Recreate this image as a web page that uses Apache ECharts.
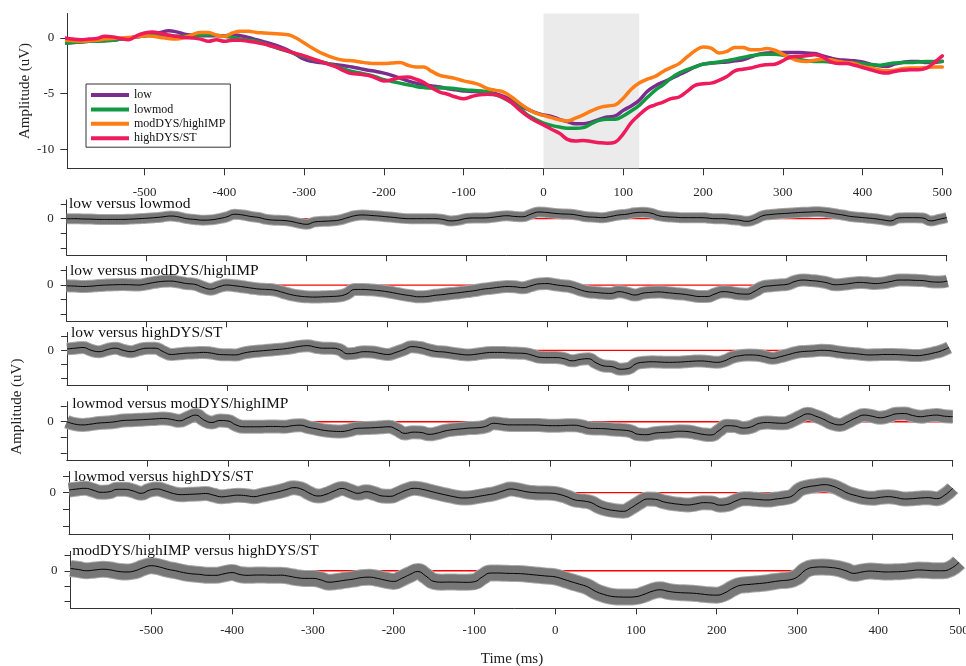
<!DOCTYPE html>
<html>
<head>
<meta charset="utf-8">
<script src="https://cdn.jsdelivr.net/npm/echarts@6.0.0/dist/echarts.min.js"></script>
<style>
html,body{margin:0;padding:0;background:#fff;}
#chart{width:966px;height:666px;}
</style>
</head>
<body>
<div id="chart"></div>
<script>
// ---------- DATA ----------
const time = [-600,-590,-580,-570,-560,-550,-540,-530,-520,-510,
  -500,-490,-480,-470,-460,-450,-440,-430,-420,-410,
  -400,-390,-380,-370,-360,-350,-340,-330,-320,-310,
  -300,-290,-280,-270,-260,-250,-240,-230,-220,-210,
  -200,-190,-180,-170,-160,-150,-140,-130,-120,-110,
  -100,-90,-80,-70,-60,-50,-40,-30,-20,-10,
  0,10,20,30,40,50,60,70,80,90,
  100,110,120,130,140,150,160,170,180,190,
  200,210,220,230,240,250,260,270,280,290,
  300,310,320,330,340,350,360,370,380,390,
  400,410,420,430,440,450,460,470,480,490,500];

const groupNames = ['low','lowmod','modDYS/highIMP','highDYS/ST'];

const low = [-0.45,-0.4,-0.35,-0.3,-0.25,-0.25,-0.2,-0.1,0.0,0.1,
  0.2,0.35,0.5,0.65,0.55,0.35,0.25,0.2,0.2,0.2,
  0.2,0.3,0.2,0.05,-0.15,-0.35,-0.55,-0.8,-1.1,-1.5,
  -1.9,-2.1,-2.2,-2.3,-2.4,-2.5,-2.6,-2.75,-2.9,-3.0,
  -3.15,-3.35,-3.6,-3.85,-4.05,-4.2,-4.3,-4.4,-4.55,-4.65,
  -4.75,-4.8,-4.8,-4.85,-5.0,-5.25,-5.6,-6.05,-6.4,-6.7,
  -6.9,-7.05,-7.3,-7.5,-7.7,-7.7,-7.55,-7.3,-7.1,-7.0,
  -6.5,-6.1,-5.6,-4.8,-4.3,-3.95,-3.65,-3.3,-2.95,-2.6,
  -2.35,-2.25,-2.2,-2.15,-2.05,-1.95,-1.7,-1.45,-1.35,-1.3,
  -1.3,-1.3,-1.3,-1.35,-1.4,-1.6,-1.8,-1.95,-2.0,-2.05,
  -2.15,-2.35,-2.5,-2.55,-2.35,-2.2,-2.1,-2.1,-2.2,-2.2,-2.1];

const lowmod = [-0.45,-0.4,-0.35,-0.3,-0.3,-0.25,-0.2,-0.1,0.0,0.1,
  0.2,0.25,0.3,0.25,0.15,0.15,0.2,0.25,0.3,0.25,
  0.15,0.05,-0.1,-0.2,-0.3,-0.5,-0.75,-1.0,-1.2,-1.45,
  -1.65,-1.9,-2.1,-2.3,-2.55,-2.8,-3.0,-3.15,-3.3,-3.5,
  -3.75,-3.9,-4.05,-4.2,-4.35,-4.45,-4.5,-4.5,-4.5,-4.55,
  -4.65,-4.7,-4.75,-4.85,-5.1,-5.4,-5.8,-6.3,-6.9,-7.3,
  -7.65,-7.85,-8.0,-8.1,-8.1,-8.05,-7.7,-7.4,-7.3,-7.3,
  -7.0,-6.55,-6.05,-5.35,-4.7,-4.2,-3.6,-3.15,-2.85,-2.6,
  -2.35,-2.25,-2.15,-2.05,-1.9,-1.75,-1.6,-1.5,-1.45,-1.45,
  -1.55,-1.7,-1.9,-2.05,-2.1,-2.1,-2.15,-2.2,-2.25,-2.25,
  -2.3,-2.4,-2.45,-2.35,-2.25,-2.2,-2.2,-2.15,-2.1,-2.1,-2.1];

const modDYS = [-0.2,-0.25,-0.3,-0.25,-0.2,-0.1,-0.05,0.0,0.05,0.1,
  0.2,0.15,0.05,-0.05,-0.1,0.05,0.3,0.5,0.5,0.25,
  0.15,0.45,0.6,0.6,0.5,0.45,0.4,0.35,0.3,0.0,
  -0.45,-0.9,-1.3,-1.6,-1.85,-2.0,-2.05,-2.15,-2.25,-2.3,
  -2.3,-2.25,-2.2,-2.45,-2.6,-2.6,-3.0,-3.35,-3.5,-3.65,
  -3.85,-4.0,-4.2,-4.55,-4.7,-4.85,-5.3,-5.85,-6.35,-6.75,
  -6.95,-7.15,-7.35,-7.45,-7.2,-6.9,-6.55,-6.25,-6.1,-6.0,
  -5.4,-4.6,-4.05,-3.7,-3.45,-3.0,-2.65,-2.3,-1.7,-1.15,
  -0.8,-0.9,-1.35,-1.2,-0.85,-0.85,-1.05,-1.05,-0.95,-1.1,
  -1.45,-1.8,-2.05,-2.1,-2.0,-1.9,-1.95,-2.1,-2.2,-2.3,
  -2.55,-2.7,-2.85,-2.95,-2.9,-2.75,-2.7,-2.7,-2.65,-2.6,-2.6];

const highDYS = [0.0,-0.1,-0.15,-0.1,-0.05,0.15,0.1,-0.05,-0.15,0.2,
  0.45,0.55,0.4,0.25,0.15,0.05,0.0,-0.1,-0.3,-0.15,
  -0.3,-0.2,-0.2,-0.3,-0.4,-0.55,-0.75,-0.95,-1.2,-1.4,
  -1.6,-1.85,-2.1,-2.35,-2.6,-2.95,-3.2,-3.25,-3.35,-3.6,
  -3.85,-3.75,-3.55,-3.5,-3.7,-4.0,-4.5,-4.85,-5.05,-5.3,
  -5.45,-5.25,-5.1,-5.05,-5.1,-5.35,-5.8,-6.45,-7.0,-7.45,
  -7.8,-8.2,-8.55,-9.1,-9.25,-9.2,-9.3,-9.4,-9.45,-9.35,
  -8.6,-7.6,-6.9,-6.3,-6.0,-5.75,-5.45,-5.3,-4.8,-4.25,
  -4.1,-4.05,-3.8,-3.45,-2.95,-2.8,-2.7,-2.5,-2.4,-2.35,
  -2.05,-1.7,-1.65,-1.6,-1.5,-1.7,-2.15,-2.3,-2.3,-2.45,
  -2.65,-2.85,-3.05,-3.15,-3.0,-2.9,-2.85,-2.85,-2.7,-2.2,-1.6];

const diffTitles = ['low versus lowmod','low versus modDYS/highIMP','low versus highDYS/ST',
  'lowmod versus modDYS/highIMP','lowmod versus highDYS/ST','modDYS/highIMP versus highDYS/ST'];

const diffLowLowmod = [0.0,0.0,-0.02,-0.03,-0.05,-0.05,-0.05,-0.05,-0.03,0.0,
  0.03,0.07,0.12,0.18,0.12,0.0,-0.05,-0.1,-0.08,0.0,
  0.12,0.3,0.25,0.15,0.08,-0.05,-0.1,-0.12,-0.18,-0.3,
  -0.38,-0.22,-0.18,-0.15,-0.1,0.05,0.2,0.25,0.22,0.18,
  0.13,0.08,0.02,0.0,0.0,0.0,0.0,-0.05,-0.15,-0.1,
  0.02,0.05,0.05,0.08,0.15,0.2,0.15,0.13,0.3,0.45,
  0.42,0.36,0.32,0.3,0.22,0.13,0.1,0.07,0.15,0.25,
  0.3,0.4,0.43,0.38,0.2,0.13,0.1,0.07,0.07,0.07,
  0.05,0.0,0.0,-0.05,-0.1,-0.18,-0.05,0.2,0.28,0.33,
  0.36,0.4,0.43,0.45,0.47,0.42,0.33,0.25,0.15,0.1,
  0.05,0.0,-0.08,-0.15,0.05,0.07,0.07,0.05,-0.15,-0.05,0.07];

const diffLowModDYS = [-0.05,-0.07,-0.1,-0.08,-0.03,0.0,0.02,0.03,0.02,0.0,
  0.08,0.18,0.25,0.27,0.2,0.1,0.05,-0.15,-0.28,-0.12,
  0.0,-0.05,-0.12,-0.2,-0.27,-0.3,-0.35,-0.5,-0.65,-0.75,
  -0.8,-0.82,-0.8,-0.78,-0.75,-0.6,-0.3,-0.3,-0.33,-0.38,
  -0.45,-0.55,-0.65,-0.73,-0.8,-0.78,-0.7,-0.65,-0.58,-0.52,
  -0.45,-0.38,-0.28,-0.22,-0.15,-0.1,-0.12,-0.18,-0.05,0.08,
  0.1,0.02,-0.05,-0.12,-0.3,-0.45,-0.5,-0.55,-0.57,-0.45,
  -0.55,-0.68,-0.55,-0.5,-0.47,-0.52,-0.57,-0.62,-0.7,-0.78,
  -0.78,-0.6,-0.45,-0.5,-0.6,-0.62,-0.4,-0.12,-0.05,0.0,
  0.05,0.25,0.34,0.3,0.25,0.15,0.02,0.05,0.12,0.18,
  0.15,0.1,0.15,0.25,0.34,0.34,0.32,0.3,0.22,0.2,0.27];

const diffLowHighDYS = [0.1,0.15,0.2,0.0,-0.1,0.05,0.15,0.0,-0.1,0.05,
  0.15,0.15,-0.1,-0.3,-0.25,-0.2,-0.18,-0.15,-0.2,-0.3,
  -0.32,-0.33,-0.2,-0.1,-0.05,0.0,0.05,0.1,0.18,0.28,
  0.33,0.22,0.15,0.15,0.05,-0.25,-0.2,-0.1,-0.12,-0.22,
  -0.3,-0.15,0.05,0.26,0.2,0.05,-0.08,-0.12,-0.2,-0.28,
  -0.33,-0.28,-0.2,-0.15,-0.15,-0.18,-0.2,-0.22,-0.35,-0.5,
  -0.52,-0.52,-0.6,-0.75,-0.65,-0.6,-0.9,-1.12,-1.17,-1.35,
  -1.3,-0.95,-0.85,-0.82,-0.84,-0.86,-0.85,-0.82,-0.78,-0.76,
  -0.8,-0.86,-0.75,-0.5,-0.38,-0.33,-0.35,-0.45,-0.57,-0.45,
  -0.3,-0.15,-0.08,-0.05,0.0,-0.02,-0.1,-0.18,-0.22,-0.28,
  -0.33,-0.32,-0.3,-0.3,-0.32,-0.35,-0.38,-0.32,-0.2,-0.05,0.2];

const diffLowmodModDYS = [0.0,-0.15,-0.2,-0.15,-0.08,-0.05,0.0,0.08,0.1,0.12,
  0.15,0.18,0.21,0.15,0.06,0.25,0.42,0.12,-0.05,0.08,
  0.05,-0.2,-0.32,-0.32,-0.32,-0.3,-0.3,-0.32,-0.25,-0.22,
  -0.35,-0.45,-0.55,-0.6,-0.62,-0.55,-0.42,-0.4,-0.38,-0.35,
  -0.32,-0.5,-0.74,-0.66,-0.68,-0.8,-0.72,-0.58,-0.5,-0.45,
  -0.4,-0.38,-0.3,-0.1,-0.15,-0.2,-0.2,-0.2,-0.2,-0.22,
  -0.25,-0.25,-0.23,-0.22,-0.3,-0.42,-0.43,-0.45,-0.5,-0.53,
  -0.6,-0.8,-0.82,-0.72,-0.68,-0.65,-0.6,-0.62,-0.7,-0.8,
  -0.84,-0.55,-0.25,-0.28,-0.4,-0.32,-0.1,-0.05,-0.08,-0.1,
  0.05,0.3,0.5,0.35,0.15,-0.1,-0.2,0.0,0.25,0.42,
  0.35,0.25,0.35,0.5,0.52,0.4,0.32,0.38,0.42,0.35,0.32];

const diffLowmodHighDYS = [0.16,0.22,0.26,0.15,0.02,0.05,0.2,0.2,0.1,-0.04,
  0.15,0.22,0.1,-0.05,-0.12,-0.1,-0.08,-0.05,-0.15,-0.25,
  -0.2,-0.15,-0.18,-0.24,-0.15,-0.05,0.05,0.18,0.3,0.2,
  -0.05,-0.2,-0.1,0.1,0.25,0.1,-0.04,0.06,-0.05,-0.2,
  -0.22,-0.05,0.15,0.26,0.2,0.08,-0.04,-0.15,-0.25,-0.32,
  -0.3,-0.22,-0.14,-0.05,0.1,0.22,0.15,0.05,0.0,-0.02,
  -0.03,-0.1,-0.25,-0.44,-0.5,-0.6,-0.85,-1.0,-1.08,-1.12,
  -0.9,-0.6,-0.38,-0.4,-0.55,-0.64,-0.7,-0.74,-0.68,-0.6,
  -0.62,-0.75,-0.7,-0.5,-0.36,-0.38,-0.42,-0.44,-0.38,-0.32,
  -0.2,0.2,0.35,0.42,0.48,0.4,0.2,-0.04,-0.18,-0.3,
  -0.34,-0.28,-0.24,-0.3,-0.38,-0.36,-0.32,-0.3,-0.36,-0.15,0.26];

const diffModDYSHighDYS = [0.15,0.08,0.0,0.05,0.1,0.05,-0.05,-0.08,0.0,0.2,
  0.33,0.25,0.1,0.0,-0.12,-0.2,-0.24,-0.3,-0.3,-0.2,
  -0.12,-0.25,-0.3,-0.28,-0.28,-0.3,-0.29,-0.35,-0.45,-0.5,
  -0.5,-0.6,-0.75,-0.7,-0.62,-0.55,-0.45,-0.42,-0.5,-0.62,
  -0.7,-0.5,-0.25,-0.05,-0.35,-0.7,-0.75,-0.74,-0.75,-0.76,
  -0.72,-0.4,-0.15,-0.15,-0.17,-0.18,-0.2,-0.25,-0.3,-0.35,
  -0.4,-0.55,-0.72,-0.88,-1.05,-1.35,-1.55,-1.68,-1.72,-1.73,
  -1.7,-1.55,-1.35,-1.25,-1.35,-1.42,-1.45,-1.47,-1.52,-1.58,
  -1.6,-1.45,-1.15,-0.95,-0.9,-0.85,-0.8,-0.72,-0.65,-0.6,
  -0.4,0.05,0.22,0.25,0.22,0.15,0.0,-0.17,-0.08,-0.02,
  -0.05,-0.08,-0.07,-0.05,0.0,0.05,0.03,0.0,0.0,0.15,0.55];

// zero reference of each difference panel: level and time span
const zeroLevel = 0;
const zeroSpan = [-600, 500];

const xTickValues = [-500,-400,-300,-200,-100,0,100,200,300,400,500];
const topYTickValues = [-10,-5,0];
const subYTickValues = [-2,-1,0,1];
const subYLabelValues = [0];
const shadeWindow = [0,120];

// ---------- STYLE / LAYOUT ----------
const FONT = '"Liberation Serif","Times New Roman",serif';
const AX = '#333333';
const groupColors = ['#7b2d8e','#119a41','#ff7d14','#ee1a5c'];
const groupSeries = [low, lowmod, modDYS, highDYS];
const diffSeries = [diffLowLowmod, diffLowModDYS, diffLowHighDYS, diffLowmodModDYS, diffLowmodHighDYS, diffModDYSHighDYS];

const topLayout = {left:67.3, top:13.5, width:875, height:154.8};
const subLayout = [
  {left:66.7, top:199.9, width:880.0, height:55.3, band:9,  tx:69,   ty:204.3},
  {left:66.6, top:266.4, width:880.7, height:54.9, band:11, tx:70,   ty:271},
  {left:67.1, top:332.5, width:881.9, height:52.4, band:11, tx:71,   ty:333.3},
  {left:66.8, top:401.7, width:885.9, height:59.0, band:12, tx:72.3, ty:404.3},
  {left:69.0, top:471.5, width:883.7, height:62.3, band:13, tx:74,   ty:476.7},
  {left:70.5, top:551.4, width:888.5, height:57.0, band:15, tx:72.3, ty:551}
];

const pairs = arr => time.map((t,i)=>[t, arr[i]]);

const grids = [Object.assign({outerBoundsMode:'none', containLabel:false}, topLayout)];
subLayout.forEach(L => grids.push({left:L.left, top:L.top, width:L.width, height:L.height, outerBoundsMode:'none', containLabel:false}));

const axisLine = () => ({show:true, onZero:false, lineStyle:{color:AX, width:1}});

const xAxes = [{
  type:'value', gridIndex:0, min:-597, max:500,
  axisLine:axisLine(),
  axisTick:{show:true, customValues:xTickValues, length:7, inside:false, lineStyle:{color:AX}},
  axisLabel:{show:true, customValues:xTickValues, margin:18, fontFamily:FONT, fontSize:13, color:'#262626'},
  splitLine:{show:false}
}];
const yAxes = [{
  type:'value', gridIndex:0, min:-11.7, max:2.2,
  axisLine:axisLine(),
  axisTick:{show:true, customValues:topYTickValues, length:7, lineStyle:{color:AX}},
  axisLabel:{show:true, customValues:topYTickValues, margin:13, fontFamily:FONT, fontSize:13, color:'#262626'},
  splitLine:{show:false}
}];
subLayout.forEach((L,i) => {
  xAxes.push({
    type:'value', gridIndex:i+1, min:-600, max:500,
    axisLine:axisLine(),
    axisTick:{show:true, customValues:xTickValues, length:6, lineStyle:{color:AX}},
    axisLabel:{show:i===5, customValues:xTickValues, margin:16, fontFamily:FONT, fontSize:13, color:'#262626'},
    splitLine:{show:false}
  });
  yAxes.push({
    type:'value', gridIndex:i+1, min:-2.47, max:1.27,
    axisLine:axisLine(),
    axisTick:{show:true, customValues:subYTickValues, length:6, lineStyle:{color:AX}},
    axisLabel:{show:true, customValues:subYLabelValues, margin:13, fontFamily:FONT, fontSize:13, color:'#262626'},
    splitLine:{show:false}
  });
});

const series = [];
// stimulus window shading
series.push({
  type:'line', xAxisIndex:0, yAxisIndex:0, data:[], silent:true,
  markArea:{silent:true, itemStyle:{color:'#ebebeb'}, data:[[{xAxis:shadeWindow[0]},{xAxis:shadeWindow[1]}]]}
});
groupNames.forEach((n,k) => {
  series.push({
    type:'line', name:n, xAxisIndex:0, yAxisIndex:0, data:pairs(groupSeries[k]),
    showSymbol:false, symbol:'none', smooth:0.4, z:3,
    lineStyle:{width:3.5, color:groupColors[k], cap:'round', join:'round'},
    itemStyle:{color:groupColors[k]}
  });
});
subLayout.forEach((L,i) => {
  const d = pairs(diffSeries[i]);
  series.push({
    type:'line', xAxisIndex:i+1, yAxisIndex:i+1, silent:true,
    data:[[zeroSpan[0], zeroLevel],[zeroSpan[1], zeroLevel]],
    showSymbol:false, symbol:'none', z:2,
    lineStyle:{color:'#ff0000', width:1.3, type:'solid'}, itemStyle:{color:'#ff0000'}
  });
  // soft outer edge of the error band
  series.push({
    type:'line', xAxisIndex:i+1, yAxisIndex:i+1, data:d,
    showSymbol:false, symbol:'none', smooth:0.5, z:3, silent:true,
    lineStyle:{width:L.band+2, color:'#a9a9a9', cap:'butt', join:'round'}
  });
  series.push({
    type:'line', xAxisIndex:i+1, yAxisIndex:i+1, data:d,
    showSymbol:false, symbol:'none', smooth:0.5, z:4, silent:true,
    lineStyle:{width:L.band, color:'#777777', cap:'butt', join:'round'}
  });
  series.push({
    type:'line', xAxisIndex:i+1, yAxisIndex:i+1, data:d,
    showSymbol:false, symbol:'none', smooth:0.5, z:5, silent:true,
    lineStyle:{width:1, color:'#000000'}
  });
});

const titles = subLayout.map((L,i) => ({
  text:diffTitles[i], left:L.tx, top:L.ty-9, padding:0,
  textStyle:{fontFamily:FONT, fontSize:15.5, fontWeight:'normal', color:'#111', lineHeight:18}
}));

const option = {
  animation:false,
  backgroundColor:'#ffffff',
  title:titles,
  legend:{
    data:groupNames, left:86, top:84, orient:'vertical', icon:'rect',
    itemWidth:38, itemHeight:4, itemGap:2.4, padding:[5,5,3,5],
    borderColor:'#333', borderWidth:1, backgroundColor:'#fff', selectedMode:false,
    textStyle:{fontFamily:FONT, fontSize:12, color:'#111', lineHeight:12}
  },
  grid:grids, xAxis:xAxes, yAxis:yAxes, series:series,
  graphic:[
    {type:'text', x:25, y:91, rotation:Math.PI/2, silent:true,
      style:{text:'Amplitude (uV)', font:'15px "Liberation Serif"', fill:'#222', textAlign:'center', textVerticalAlign:'middle'}},
    {type:'text', x:17.5, y:406.7, rotation:Math.PI/2, silent:true,
      style:{text:'Amplitude (uV)', font:'15px "Liberation Serif"', fill:'#222', textAlign:'center', textVerticalAlign:'middle'}},
    {type:'text', x:512, y:659, silent:true,
      style:{text:'Time (ms)', font:'15px "Liberation Serif"', fill:'#222', textAlign:'center', textVerticalAlign:'middle'}}
  ]
};

const chart = echarts.init(document.getElementById('chart'), null, {renderer:'canvas'});
chart.setOption(option);
</script>
</body>
</html>
